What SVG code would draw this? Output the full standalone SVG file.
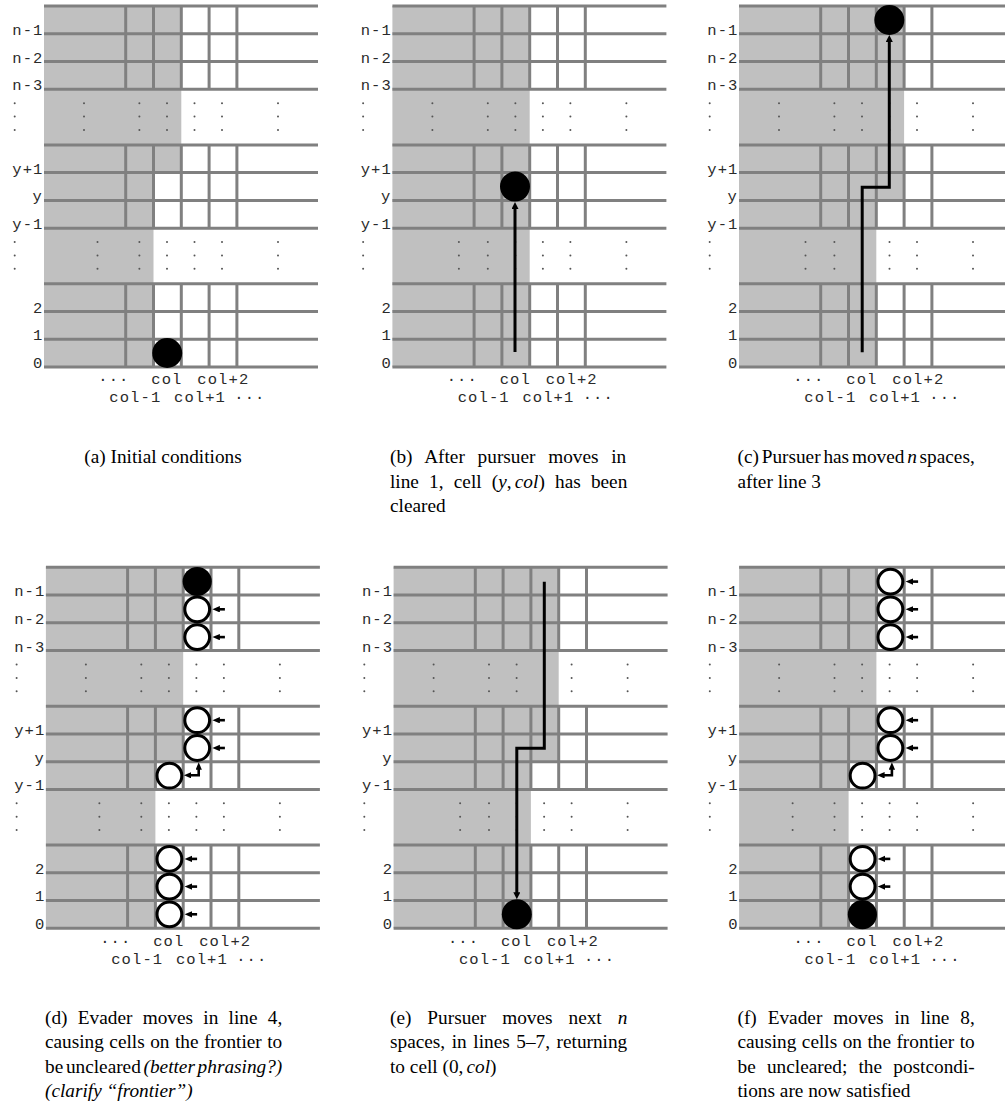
<svg xmlns="http://www.w3.org/2000/svg" xmlns:xlink="http://www.w3.org/1999/xlink" width="1005" height="1107" viewBox="0 0 1005 1107">
<style>
.bg{fill:#fff}
.fill{fill:#c0c0c0}
.grid{stroke:#808080;stroke-width:3;fill:none}
.dot{fill:#555}
.lbl{font-family:"Liberation Mono","Courier New",monospace;font-size:15.5px;letter-spacing:1.1px;fill:#2a2a2a}
.cap{font-family:"Liberation Serif","Times New Roman",serif;font-size:19.3px;fill:#000}
.it{font-style:italic}
.blk{fill:#000}
.wht{fill:#fff;stroke:#000;stroke-width:3}
.arr{fill:none;stroke:#000;stroke-width:3;marker-end:url(#ah)}
.sarr{fill:none;stroke:#000;stroke-width:2.6;marker-end:url(#sah)}
.darr{fill:none;stroke:#000;stroke-width:2.6;marker-start:url(#sah);marker-end:url(#sah)}
</style>
<defs>
<marker id="ah" markerUnits="userSpaceOnUse" markerWidth="8" markerHeight="8" refX="1" refY="3.5" orient="auto"><path d="M0,0 L7,3.5 L0,7 Z" fill="#000"/></marker>
<marker id="sah" markerUnits="userSpaceOnUse" markerWidth="9" markerHeight="8" refX="1" refY="3.2" orient="auto-start-reverse"><path d="M0,0 L7.5,3.2 L0,6.4 Z" fill="#000"/></marker>
<path id="grid" class="grid" d="M44 6H318M44 33.8H318M44 61.5H318M44 89.3H318M44 144.9H318M44 172.6H318M44 200.4H318M44 228.2H318M44 283.7H318M44 311.5H318M44 339.2H318M44 367H318M125.7 6V89.3M153.5 6V89.3M181.3 6V89.3M209.1 6V89.3M236.9 6V89.3M125.7 144.9V228.2M153.5 144.9V228.2M181.3 144.9V228.2M209.1 144.9V228.2M236.9 144.9V228.2M125.7 283.7V367M153.5 283.7V367M181.3 283.7V367M209.1 283.7V367M236.9 283.7V367"/>
<g id="dots" class="dot">
<circle cx="14.7" cy="103.3" r="1"/><circle cx="14.7" cy="116.6" r="1"/><circle cx="14.7" cy="129.9" r="1"/>
<circle cx="84" cy="103.3" r="1"/><circle cx="84" cy="116.6" r="1"/><circle cx="84" cy="129.9" r="1"/>
<circle cx="139.4" cy="103.3" r="1"/><circle cx="139.4" cy="116.6" r="1"/><circle cx="139.4" cy="129.9" r="1"/>
<circle cx="167" cy="103.3" r="1"/><circle cx="167" cy="116.6" r="1"/><circle cx="167" cy="129.9" r="1"/>
<circle cx="194.5" cy="103.3" r="1"/><circle cx="194.5" cy="116.6" r="1"/><circle cx="194.5" cy="129.9" r="1"/>
<circle cx="222" cy="103.3" r="1"/><circle cx="222" cy="116.6" r="1"/><circle cx="222" cy="129.9" r="1"/>
<circle cx="278" cy="103.3" r="1"/><circle cx="278" cy="116.6" r="1"/><circle cx="278" cy="129.9" r="1"/>
<circle cx="14.7" cy="242" r="1"/><circle cx="14.7" cy="255.4" r="1"/><circle cx="14.7" cy="268.8" r="1"/>
<circle cx="139.4" cy="242" r="1"/><circle cx="139.4" cy="255.4" r="1"/><circle cx="139.4" cy="268.8" r="1"/>
<circle cx="167" cy="242" r="1"/><circle cx="167" cy="255.4" r="1"/><circle cx="167" cy="268.8" r="1"/>
<circle cx="194.5" cy="242" r="1"/><circle cx="194.5" cy="255.4" r="1"/><circle cx="194.5" cy="268.8" r="1"/>
<circle cx="222" cy="242" r="1"/><circle cx="222" cy="255.4" r="1"/><circle cx="222" cy="268.8" r="1"/>
<circle cx="278" cy="242" r="1"/><circle cx="278" cy="255.4" r="1"/><circle cx="278" cy="268.8" r="1"/>
</g>
<g id="dl97" class="dot"><circle cx="97.5" cy="242" r="1"/><circle cx="97.5" cy="255.4" r="1"/><circle cx="97.5" cy="268.8" r="1"/></g>
<g id="dl110" class="dot"><circle cx="110.5" cy="242" r="1"/><circle cx="110.5" cy="255.4" r="1"/><circle cx="110.5" cy="268.8" r="1"/></g>
</defs>
<rect class="bg" x="0" y="0" width="1005" height="1107"/>

<g id="subfig-a">
<g id="panel-a" transform="translate(0,0)">
<path class="fill" d="M44,6H181.3V172.6H153.5V367H44Z"/>
<use xlink:href="#grid"/><use xlink:href="#dots"/><use xlink:href="#dl97"/>
<g class="lbl"><text x="12.3" y="34.8">n-1</text><text x="12.3" y="62.5">n-2</text><text x="12.3" y="90.3">n-3</text><text x="12.3" y="173.6">y+1</text><text x="32.6" y="201.4">y</text><text x="12.3" y="229.2">y-1</text><text x="33.1" y="312.5">2</text><text x="33.1" y="340.2">1</text><text x="33.1" y="368">0</text>
<text x="98.3" y="384.3">···</text><text x="151.3" y="384.3">col</text><text x="197.3" y="384.3">col+2</text><text x="109.3" y="402.3">col-1</text><text x="174" y="402.3">col+1</text><text x="234.3" y="402.3">···</text></g>
<g id="tokens-a"><circle class="blk" cx="167.2" cy="353" r="15"/></g>
</g>
<text class="cap" x="163" y="463.3" text-anchor="middle">(a) Initial conditions</text>
</g>

<g id="subfig-b">
<g id="panel-b" transform="translate(348.4,0)">
<path class="fill" d="M44,6H181.3V367H44Z"/>
<use xlink:href="#grid"/><use xlink:href="#dots"/><use xlink:href="#dl110"/>
<g class="lbl"><text x="12.3" y="34.8">n-1</text><text x="12.3" y="62.5">n-2</text><text x="12.3" y="90.3">n-3</text><text x="12.3" y="173.6">y+1</text><text x="32.6" y="201.4">y</text><text x="12.3" y="229.2">y-1</text><text x="33.1" y="312.5">2</text><text x="33.1" y="340.2">1</text><text x="33.1" y="368">0</text>
<text x="98.3" y="384.3">···</text><text x="151.3" y="384.3">col</text><text x="197.3" y="384.3">col+2</text><text x="109.3" y="402.3">col-1</text><text x="174" y="402.3">col+1</text><text x="234.3" y="402.3">···</text></g>
<g id="tokens-b"><circle class="blk" cx="166.6" cy="186.6" r="15"/></g>
<g id="connectors-b"><path class="arr" d="M166.6,352V208"/></g>
</g>
<g class="cap"><text x="390" y="463.3" word-spacing="7.93">(b) After pursuer moves in</text>
<text x="390" y="487.7" word-spacing="5.38">line 1, cell (<tspan class="it">y</tspan>,<tspan class="it" dx="3.2">col</tspan>) has been</text>
<text x="390" y="512.1">cleared</text></g>
</g>

<g id="subfig-c">
<g id="panel-c" transform="translate(695,0)">
<path class="fill" d="M44,6H209.1V200.4H181.3V367H44Z"/>
<use xlink:href="#grid"/><use xlink:href="#dots"/><use xlink:href="#dl110"/>
<g class="lbl"><text x="12.3" y="34.8">n-1</text><text x="12.3" y="62.5">n-2</text><text x="12.3" y="90.3">n-3</text><text x="12.3" y="173.6">y+1</text><text x="32.6" y="201.4">y</text><text x="12.3" y="229.2">y-1</text><text x="33.1" y="312.5">2</text><text x="33.1" y="340.2">1</text><text x="33.1" y="368">0</text>
<text x="98.3" y="384.3">···</text><text x="151.3" y="384.3">col</text><text x="197.3" y="384.3">col+2</text><text x="109.3" y="402.3">col-1</text><text x="174" y="402.3">col+1</text><text x="234.3" y="402.3">···</text></g>
<g id="tokens-c"><circle class="blk" cx="194.3" cy="20" r="15"/></g>
<g id="connectors-c"><path class="arr" d="M167.2,352.3V187.3H194.3V41"/></g>
</g>
<g class="cap"><text x="737.5" y="463.3" word-spacing="-2.03">(c) Pursuer has moved <tspan class="it">n</tspan> spaces,</text>
<text x="737.5" y="487.7">after line 3</text></g>
</g>

<g id="subfig-d">
<g id="panel-d" transform="translate(1.9,561.3)">
<path class="fill" d="M44,6H181.3V200.4H153.5V367H44Z"/>
<use xlink:href="#grid"/><use xlink:href="#dots"/><use xlink:href="#dl97"/>
<g class="lbl"><text x="12.3" y="34.8">n-1</text><text x="12.3" y="62.5">n-2</text><text x="12.3" y="90.3">n-3</text><text x="12.3" y="173.6">y+1</text><text x="32.6" y="201.4">y</text><text x="12.3" y="229.2">y-1</text><text x="33.1" y="312.5">2</text><text x="33.1" y="340.2">1</text><text x="33.1" y="368">0</text>
<text x="98.3" y="384.3">···</text><text x="151.3" y="384.3">col</text><text x="197.3" y="384.3">col+2</text><text x="109.3" y="402.3">col-1</text><text x="174" y="402.3">col+1</text><text x="234.3" y="402.3">···</text></g>
<g id="tokens-d">
<circle class="blk" cx="195.3" cy="20.2" r="14.6"/>
<circle class="wht" cx="195.3" cy="48" r="12.4"/>
<circle class="wht" cx="195.3" cy="75.8" r="12.4"/>
<circle class="wht" cx="195.3" cy="158.9" r="12.4"/>
<circle class="wht" cx="195.3" cy="186.7" r="12.4"/>
<circle class="wht" cx="167.5" cy="214.4" r="12.4"/>
<circle class="wht" cx="167.5" cy="297.6" r="12.4"/>
<circle class="wht" cx="167.5" cy="325.3" r="12.4"/>
<circle class="wht" cx="167.5" cy="353" r="12.4"/>
</g>
<g id="connectors-d">
<path class="sarr" d="M223,48H217"/>
<path class="sarr" d="M223,75.8H217"/>
<path class="sarr" d="M223,158.9H217"/>
<path class="sarr" d="M223,186.7H217"/>
<path class="darr" d="M188.5,214H196.8V207.5"/>
<path class="sarr" d="M195.2,297.6H189.2"/>
<path class="sarr" d="M195.2,325.3H189.2"/>
<path class="sarr" d="M195.2,353H189.2"/>
</g>
</g>
<g class="cap"><text x="45" y="1024" word-spacing="5.48">(d) Evader moves in line 4,</text>
<text x="45" y="1048.4" word-spacing="0.65">causing cells on the frontier to</text>
<text x="45" y="1072.8" word-spacing="-2.13">be uncleared <tspan class="it">(better phrasing?)</tspan></text>
<text x="45" y="1097.2" class="it">(clarify “frontier”)</text></g>
</g>

<g id="subfig-e">
<g id="panel-e" transform="translate(349.6,561.3)">
<path class="fill" d="M44,6H209.1V200.4H181.3V367H44Z"/>
<use xlink:href="#grid"/><use xlink:href="#dots"/><use xlink:href="#dl110"/>
<g class="lbl"><text x="12.3" y="34.8">n-1</text><text x="12.3" y="62.5">n-2</text><text x="12.3" y="90.3">n-3</text><text x="12.3" y="173.6">y+1</text><text x="32.6" y="201.4">y</text><text x="12.3" y="229.2">y-1</text><text x="33.1" y="312.5">2</text><text x="33.1" y="340.2">1</text><text x="33.1" y="368">0</text>
<text x="98.3" y="384.3">···</text><text x="151.3" y="384.3">col</text><text x="197.3" y="384.3">col+2</text><text x="109.3" y="402.3">col-1</text><text x="174" y="402.3">col+1</text><text x="234.3" y="402.3">···</text></g>
<g id="tokens-e"><circle class="blk" cx="167.2" cy="353" r="15"/></g>
<g id="connectors-e"><path class="arr" d="M194.7,20.4V187H167.2V332"/></g>
</g>
<g class="cap"><text x="390" y="1024" word-spacing="11.13">(e) Pursuer moves next <tspan class="it">n</tspan></text>
<text x="390" y="1048.4" word-spacing="1.75">spaces, in lines 5–7, returning</text>
<text x="390" y="1072.8">to cell (0,<tspan class="it" dx="3.2">col</tspan>)</text></g>
</g>

<g id="subfig-f">
<g id="panel-f" transform="translate(695.1,561.3)">
<path class="fill" d="M44,6H181.3V200.4H153.5V367H44Z"/>
<use xlink:href="#grid"/><use xlink:href="#dots"/><use xlink:href="#dl97"/>
<g class="lbl"><text x="12.3" y="34.8">n-1</text><text x="12.3" y="62.5">n-2</text><text x="12.3" y="90.3">n-3</text><text x="12.3" y="173.6">y+1</text><text x="32.6" y="201.4">y</text><text x="12.3" y="229.2">y-1</text><text x="33.1" y="312.5">2</text><text x="33.1" y="340.2">1</text><text x="33.1" y="368">0</text>
<text x="98.3" y="384.3">···</text><text x="151.3" y="384.3">col</text><text x="197.3" y="384.3">col+2</text><text x="109.3" y="402.3">col-1</text><text x="174" y="402.3">col+1</text><text x="234.3" y="402.3">···</text></g>
<g id="tokens-f">
<circle class="wht" cx="195.3" cy="20.3" r="12.4"/>
<circle class="wht" cx="195.3" cy="48" r="12.4"/>
<circle class="wht" cx="195.3" cy="75.8" r="12.4"/>
<circle class="wht" cx="195.3" cy="158.9" r="12.4"/>
<circle class="wht" cx="195.3" cy="186.7" r="12.4"/>
<circle class="wht" cx="167.5" cy="214.4" r="12.4"/>
<circle class="wht" cx="167.5" cy="297.6" r="12.4"/>
<circle class="wht" cx="167.5" cy="325.3" r="12.4"/>
<circle class="blk" cx="167.3" cy="353.3" r="14.6"/>
</g>
<g id="connectors-f">
<path class="sarr" d="M223,20.3H217"/>
<path class="sarr" d="M223,48H217"/>
<path class="sarr" d="M223,75.8H217"/>
<path class="sarr" d="M223,158.9H217"/>
<path class="sarr" d="M223,186.7H217"/>
<path class="darr" d="M188.5,214H196.8V207.5"/>
<path class="sarr" d="M195.2,297.6H189.2"/>
<path class="sarr" d="M195.2,325.3H189.2"/>
</g>
</g>
<g class="cap"><text x="737.5" y="1024" word-spacing="6.12">(f) Evader moves in line 8,</text>
<text x="737.5" y="1048.4" word-spacing="0.65">causing cells on the frontier to</text>
<text x="737.5" y="1072.8" word-spacing="6.44">be uncleared; the postcondi-</text>
<text x="737.5" y="1097.2">tions are now satisfied</text></g>
</g>
</svg>
